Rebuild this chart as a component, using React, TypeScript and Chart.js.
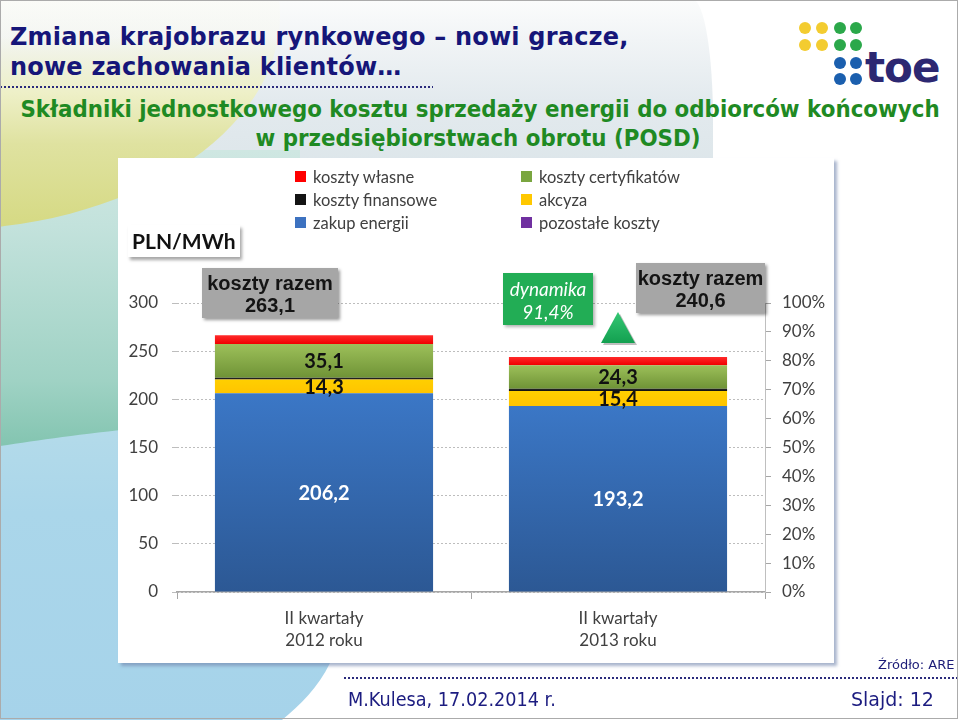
import React, { useEffect, useRef } from "react";
import { Chart, registerables } from "chart.js";

Chart.register(...registerables);

// ---------- data ----------
const categories: string[][] = [
  ["II kwartały", "2012 roku"],
  ["II kwartały", "2013 roku"],
];
const zakupEnergii = [206.2, 193.2];
const akcyza = [14.3, 15.4];
const kosztyFinansowe = [1.8, 2.5];
const kosztyCertyfikatow = [35.1, 24.3];
const kosztyWlasne = [9.0, 8.6];
const pozostaleKoszty = [0, 0];
const kosztyRazem = [263.1, 240.6];
const yMax = 300;
const yStep = 50;
const pctMax = 100;
const pctStep = 10;
const unitLabel = "PLN/MWh";
const totalLabel = "koszty razem";
const dynamicsLabel = "dynamika";

const fmt = (v: number) => v.toFixed(1).replace(".", ",");

type Series = {
  label: string;
  data: number[];
  top: string;
  bottom: string;
  showValue: boolean;
  valueColor?: string;
};

// stacking order: bottom to top
const series: Series[] = [
  { label: "zakup energii", data: zakupEnergii, top: "#3b77c6", bottom: "#2c5894", showValue: true, valueColor: "#ffffff" },
  { label: "akcyza", data: akcyza, top: "#ffcf00", bottom: "#ffc400", showValue: true, valueColor: "#111111" },
  { label: "koszty finansowe", data: kosztyFinansowe, top: "#2a2a2a", bottom: "#0e0e0e", showValue: false },
  { label: "koszty certyfikatów", data: kosztyCertyfikatow, top: "#9dc05a", bottom: "#6f9336", showValue: true, valueColor: "#111111" },
  { label: "koszty własne", data: kosztyWlasne, top: "#ff2a2a", bottom: "#f00000", showValue: false },
  { label: "pozostałe koszty", data: pozostaleKoszty, top: "#7030a0", bottom: "#7030a0", showValue: false },
];

const legendColumns: string[][] = [
  ["koszty własne", "koszty finansowe", "zakup energii"],
  ["koszty certyfikatów", "akcyza", "pozostałe koszty"],
];

const legendMarker: Record<string, string> = {
  "koszty własne": "#ff0000",
  "koszty finansowe": "#141414",
  "zakup energii": "#3d72c0",
  "koszty certyfikatów": "#7aa640",
  akcyza: "#ffc800",
  "pozostałe koszty": "#7030a0",
};

const valueLabels = {
  id: "valueLabels",
  afterDatasetsDraw(chart: any) {
    const ctx = chart.ctx as CanvasRenderingContext2D;
    ctx.save();
    ctx.font = "bold 20px Lato, 'Open Sans', sans-serif";
    ctx.textAlign = "center";
    ctx.textBaseline = "middle";
    series.forEach((s, di) => {
      if (!s.showValue) return;
      const meta = chart.getDatasetMeta(di);
      meta.data.forEach((el: any, i: number) => {
        const p = el.getProps(["x", "y", "base"], true);
        ctx.fillStyle = s.valueColor || "#000";
        ctx.fillText(fmt(s.data[i]), p.x, (p.y + p.base) / 2 + 1);
      });
    });
    ctx.restore();
  },
};

const logoDots = [
  { x: 805, y: 28, c: "#f3cc30" },
  { x: 822, y: 28, c: "#f3cc30" },
  { x: 840, y: 28, c: "#2ba84a" },
  { x: 856, y: 28, c: "#2ba84a" },
  { x: 805, y: 45, c: "#f3cc30" },
  { x: 822, y: 45, c: "#f3cc30" },
  { x: 840, y: 45, c: "#2ba84a" },
  { x: 856, y: 45, c: "#2ba84a" },
  { x: 840, y: 63, c: "#1b5fae" },
  { x: 856, y: 63, c: "#1b5fae" },
  { x: 840, y: 79, c: "#1b5fae" },
  { x: 856, y: 79, c: "#1b5fae" },
];

export default function App() {
  const canvasRef = useRef<HTMLCanvasElement>(null);

  useEffect(() => {
    Chart.defaults.font.family = "Lato, 'Open Sans', sans-serif";
    const tickFont = { family: "Lato, 'Open Sans', sans-serif", size: 17 };
    const chart = new Chart(canvasRef.current as HTMLCanvasElement, {
      type: "bar",
      data: {
        labels: categories as any,
        datasets: series.map((s, di) => ({
          label: s.label,
          data: s.data,
          borderWidth: 0,
          stack: "costs",
          yAxisID: "y",
          backgroundColor: (ctx: any) => {
            const ch = ctx.chart;
            const ys = ch.scales && ch.scales.y;
            if (!ch.chartArea || !ys || ctx.type !== "data") return s.top;
            const i = ctx.dataIndex;
            let start = 0;
            for (let k = 0; k < di; k++) start += series[k].data[i];
            const end = start + s.data[i];
            const y0 = ys.getPixelForValue(start);
            const y1 = ys.getPixelForValue(end);
            if (!isFinite(y0) || !isFinite(y1) || Math.abs(y0 - y1) < 0.5) return s.top;
            const g = ch.ctx.createLinearGradient(0, y1, 0, y0);
            g.addColorStop(0, s.top);
            g.addColorStop(1, s.bottom);
            return g;
          },
        })),
      },
      options: {
        responsive: false,
        animation: false,
        layout: { padding: { top: 143, left: 0, right: 0, bottom: 0 } },
        plugins: {
          legend: { display: false },
          tooltip: { enabled: false },
        },
        datasets: { bar: { barPercentage: 0.742, categoryPercentage: 1 } } as any,
        scales: {
          x: {
            stacked: true,
            offset: true,
            grid: { offset: true, drawOnChartArea: false, drawTicks: true, tickLength: 7, color: "#a6a6a6" },
            border: { display: true, color: "#a6a6a6", width: 1.5 },
            ticks: { color: "#404040", font: { ...tickFont, lineHeight: 1.3 }, padding: 8, maxRotation: 0 },
            afterFit: (s: any) => {
              s.height = 73;
            },
          },
          y: {
            stacked: true,
            min: 0,
            max: yMax,
            position: "left",
            ticks: { stepSize: yStep, padding: 14, color: "#404040", font: tickFont },
            grid: { color: "#bdbdbd", tickLength: 5, drawTicks: true, lineWidth: 1 },
            border: { display: false, dash: [2, 2] },
            afterFit: (s: any) => {
              s.width = 59;
            },
          },
          y1: {
            type: "linear",
            position: "right",
            min: 0,
            max: pctMax,
            ticks: { stepSize: pctStep, padding: 11, color: "#404040", font: tickFont, callback: (v: any) => `${v}%` },
            grid: { drawOnChartArea: false, tickLength: 6, color: "#a6a6a6" },
            border: { display: true, color: "#bfbfbf" },
            afterFit: (s: any) => {
              s.width = 69;
            },
          },
        } as any,
      },
      plugins: [valueLabels],
    });
    return () => chart.destroy();
  }, []);

  const abs = (left: number, top: number, width: number, height: number, extra: React.CSSProperties = {}): React.CSSProperties => ({
    position: "absolute",
    left,
    top,
    width,
    height,
    ...extra,
  });

  const dyn = fmt((kosztyRazem[1] / kosztyRazem[0]) * 100);

  return (
    <div
      style={{
        position: "absolute",
        left: 0,
        top: 0,
        width: 960,
        height: 720,
        overflow: "hidden",
        background: "#ffffff",
        fontFamily: "'DejaVu Sans', sans-serif",
      }}
    >
      {/* ---------- slide background ---------- */}
      <div
        style={abs(0, 0, 713, 170, {
          borderTopRightRadius: "20px 120px",
          background: "linear-gradient(to bottom, #fbfcfc 0px, #f1f4f6 40px, #e3eaee 100px, #dde6ea 170px)",
        })}
      />
      <div
        style={abs(0, 150, 300, 420, {
          background: "linear-gradient(to bottom, #cfe7e2 0%, #c3e2dc 18%, #9fd2c4 55%, #84c5b1 70%, #84c5b1 100%)",
        })}
      />
      <div
        style={abs(-400, -200, 680, 430, {
          borderRadius: "50%",
          background:
            "linear-gradient(to bottom, rgba(255,255,255,0) 0%, rgba(250,250,235,0.3) 55%, #eef0c8 68%, #dfe2a0 80%, #d5d982 100%)",
        })}
      />
      <svg style={abs(0, 0, 960, 720)} width={960} height={720}>
        <defs>
          <linearGradient id="bluebg" x1="0" y1="0" x2="0" y2="1">
            <stop offset="0" stopColor="#b4dbea" />
            <stop offset="0.3" stopColor="#aad6ea" />
            <stop offset="1" stopColor="#a6d3ea" />
          </linearGradient>
        </defs>
        <path
          d="M0,446 C40,440 80,434 140,428 L200,424 L200,663 L330,663 C318,688 300,705 282,720 L0,720 Z"
          fill="url(#bluebg)"
        />
      </svg>

      {/* ---------- title ---------- */}
      <div
        style={{
          position: "absolute",
          left: 10,
          top: 22,
          font: "bold 24px/30px 'DejaVu Sans', sans-serif",
          color: "#161679",
          whiteSpace: "nowrap",
          letterSpacing: 0.2,
        }}
      >
        Zmiana krajobrazu rynkowego – nowi gracze,
        <br />
        nowe zachowania klientów…
      </div>
      <div
        style={abs(0, 86, 433, 2, {
          backgroundImage: "repeating-linear-gradient(to right, #2b2b7c 0px, #2b2b7c 2px, transparent 2px, transparent 4px)",
        })}
      />

      {/* logo */}
      {logoDots.map((d, i) => (
        <div key={i} style={abs(d.x - 6, d.y - 6, 12, 12, { borderRadius: "50%", background: d.c })} />
      ))}
      <div
        style={{
          position: "absolute",
          left: 865,
          top: 43,
          font: "bold 42px/50px 'DejaVu Sans', sans-serif",
          color: "#2c2872",
          letterSpacing: -1,
          whiteSpace: "nowrap",
        }}
      >
        toe
      </div>

      {/* subtitle */}
      <div
        style={{
          position: "absolute",
          left: -100,
          top: 95,
          width: 1160,
          textAlign: "center",
          font: "bold 23px/29px 'DejaVu Sans', sans-serif",
          color: "#1f8a23",
          whiteSpace: "nowrap",
          transform: "scaleX(0.93)",
          transformOrigin: "580px 0",
        }}
      >
        Składniki jednostkowego kosztu sprzedaży energii do odbiorców końcowych
      </div>
      <div
        style={{
          position: "absolute",
          left: -102,
          top: 124,
          width: 1160,
          textAlign: "center",
          font: "bold 23px/29px 'DejaVu Sans', sans-serif",
          color: "#1f8a23",
          whiteSpace: "nowrap",
          transform: "scaleX(0.93)",
          transformOrigin: "580px 0",
        }}
      >
        w przedsiębiorstwach obrotu (POSD)
      </div>

      {/* ---------- chart panel ---------- */}
      <div
        style={abs(118, 158, 716, 505, {
          background: "#ffffff",
          boxShadow: "3px 3px 3px rgba(110,130,170,0.6)",
        })}
      />
      <canvas
        ref={canvasRef}
        width={716}
        height={505}
        style={{ position: "absolute", left: 118, top: 160, width: 716, height: 505 }}
      />

      {/* legend */}
      {legendColumns.map((col, ci) =>
        col.map((name, ri) => {
          const mx = ci === 0 ? 295 : 521;
          const cy = 177 + ri * 23;
          return (
            <React.Fragment key={name}>
              <div style={abs(mx, cy - 6, 11, 11, { background: legendMarker[name] })} />
              <div
                style={{
                  position: "absolute",
                  left: mx + 18,
                  top: cy - 11,
                  font: "16.5px/22px Lato, 'Open Sans', sans-serif",
                  color: "#404040",
                  whiteSpace: "nowrap",
                }}
              >
                {name}
              </div>
            </React.Fragment>
          );
        })
      )}

      {/* unit box */}
      <div
        style={abs(128, 225, 112, 32, {
          background: "#ffffff",
          boxShadow: "2px 3px 3px rgba(0,0,0,0.35)",
          font: "bold 21px/32px Lato, 'Open Sans', sans-serif",
          color: "#111111",
          paddingLeft: 4,
          boxSizing: "border-box",
          whiteSpace: "nowrap",
        })}
      >
        {unitLabel}
      </div>

      {/* total boxes */}
      {[
        { l: 202, t: 268, w: 136, v: kosztyRazem[0] },
        { l: 636, t: 263, w: 129, v: kosztyRazem[1] },
      ].map((b, i) => (
        <div
          key={i}
          style={abs(b.l, b.t, b.w, 50, {
            background: "#a6a6a6",
            boxShadow: "2px 2px 3px rgba(0,0,0,0.4)",
            font: "bold 20px/22px 'Liberation Sans', Arial, sans-serif",
            color: "#141414",
            textAlign: "center",
            paddingTop: 4,
            boxSizing: "border-box",
            whiteSpace: "nowrap",
          })}
        >
          {totalLabel}
          <br />
          {fmt(b.v)}
        </div>
      ))}

      {/* dynamics box */}
      <div
        style={abs(503, 273, 90, 52, {
          background: "#22ad55",
          boxShadow: "2px 2px 3px rgba(0,0,0,0.3)",
          font: "italic 19px/23px Lato, 'Open Sans', sans-serif",
          color: "#ffffff",
          textAlign: "center",
          paddingTop: 4,
          boxSizing: "border-box",
          whiteSpace: "nowrap",
        })}
      >
        {dynamicsLabel}
        <br />
        {dyn}%
      </div>
      <svg style={abs(0, 0, 960, 720, { pointerEvents: "none" })} width={960} height={720}>
        <defs>
          <linearGradient id="tri" x1="0" y1="0" x2="0" y2="1">
            <stop offset="0" stopColor="#34c773" />
            <stop offset="1" stopColor="#13a050" />
          </linearGradient>
        </defs>
        <polygon points="620,314 603,345 637,345" fill="rgba(0,0,0,0.25)" />
        <polygon points="618,312 601,343 635,343" fill="url(#tri)" />
      </svg>

      {/* ---------- footer ---------- */}
      <div
        style={{
          position: "absolute",
          left: 878,
          top: 657,
          font: "13px/16px 'DejaVu Sans', sans-serif",
          color: "#1c1c78",
          whiteSpace: "nowrap",
        }}
      >
        Źródło: ARE
      </div>
      <div
        style={abs(344, 677, 616, 2, {
          backgroundImage: "repeating-linear-gradient(to right, #2b2b7c 0px, #2b2b7c 2px, transparent 2px, transparent 4px)",
        })}
      />
      <div
        style={{
          position: "absolute",
          left: 348,
          top: 686,
          font: "19px/26px 'DejaVu Sans', sans-serif",
          color: "#1c1c80",
          whiteSpace: "nowrap",
          transform: "scaleX(0.93)",
          transformOrigin: "0 0",
        }}
      >
        M.Kulesa, 17.02.2014 r.
      </div>
      <div
        style={{
          position: "absolute",
          left: 851,
          top: 686,
          font: "19px/26px 'DejaVu Sans', sans-serif",
          color: "#1c1c80",
          whiteSpace: "nowrap",
        }}
      >
        Slajd: 12
      </div>

      {/* slide border */}
      <div style={abs(0, 0, 958, 719, { border: "1px solid #ababab", boxSizing: "border-box", pointerEvents: "none" })} />
    </div>
  );
}
